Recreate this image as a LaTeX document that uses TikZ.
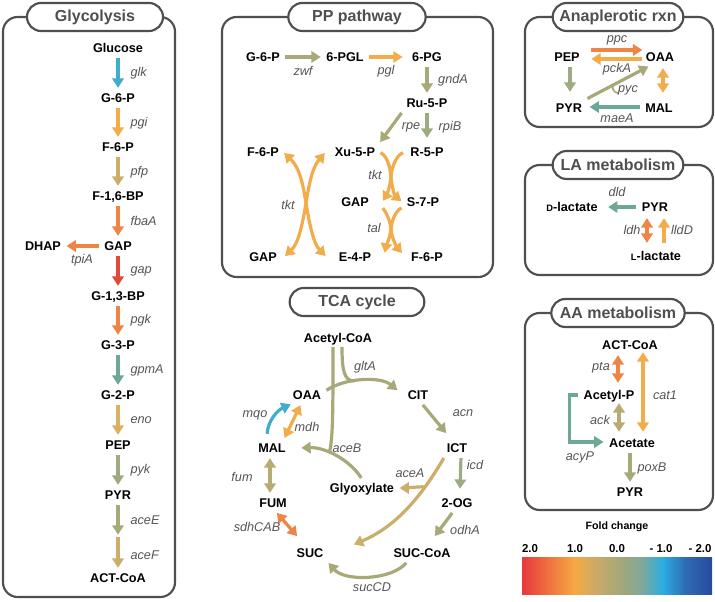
\documentclass[tikz,border=0pt]{standalone}
\usepackage{fontspec}
\setmainfont{Liberation Sans}
\usetikzlibrary{arrows.meta,calc}

\definecolor{cBlue}{HTML}{3FADCB}
\definecolor{cYel}{HTML}{F2AC4A}
\definecolor{cTan}{HTML}{CBAE69}
\definecolor{cOrg}{HTML}{EE8446}
\definecolor{cRed}{HTML}{DF483A}
\definecolor{cTeal}{HTML}{6CA797}
\definecolor{cOlive}{HTML}{A8A978}
\definecolor{cSage}{HTML}{9DAA82}
\definecolor{cKhaki}{HTML}{B8AB71}
\definecolor{cEno}{HTML}{DCB062}
\definecolor{boxgray}{HTML}{4F4F4F}
\definecolor{txtgray}{HTML}{555555}

\definecolor{fc1}{HTML}{E8393B}
\definecolor{fc2}{HTML}{EE6A3E}
\definecolor{fc3}{HTML}{F5AA44}
\definecolor{fc4}{HTML}{C7AA68}
\definecolor{fc5}{HTML}{A3A87A}
\definecolor{fc6}{HTML}{84A894}
\definecolor{fc7}{HTML}{2CAEE2}
\definecolor{fc8}{HTML}{2E6BB5}
\definecolor{fc9}{HTML}{284A9B}
\pgfdeclarehorizontalshading{foldbar}{100bp}{color(0bp)=(fc1); color(25bp)=(fc1); color(31bp)=(fc2); color(39bp)=(fc3); color(45bp)=(fc4); color(51bp)=(fc5); color(56bp)=(fc6); color(62bp)=(fc7); color(68bp)=(fc8); color(75bp)=(fc9); color(100bp)=(fc9)}

\begin{document}
\begin{tikzpicture}[x=0.75pt,y=0.75pt,yscale=-1,xscale=1,
  met/.style={font=\fontsize{9.5}{11}\selectfont\bfseries, text=black, inner sep=3pt, text height=6.9pt, text depth=0pt},
  gene/.style={font=\fontsize{9.5}{11}\selectfont\itshape, text=txtgray, inner sep=1pt},
  arr/.style={line width=2.4pt, -{Triangle[length=7pt,width=8.5pt]}, shorten >=1pt, shorten <=1pt},
  dbl/.style={line width=2.4pt, {Triangle[length=7pt,width=8.5pt]}-{Triangle[length=7pt,width=8.5pt]}, shorten >=1pt, shorten <=1pt},
  ln/.style={line width=2.4pt},
  panel/.style={draw=boxgray, line width=1.6pt, rounded corners=11pt},
  pill/.style={draw=boxgray, line width=1.6pt, fill=white, rounded corners=10.5pt, minimum height=21pt, inner sep=0pt, font=\fontsize{12}{14}\selectfont\bfseries, text=boxgray},
  tick/.style={font=\fontsize{8.6}{10}\selectfont\bfseries, text=black, inner sep=1pt}]
%set diagram size 715 x 602
\useasboundingbox (0,0) rectangle (715,602);
\fill[white] (0,0) rectangle (715,602);

%Panels
\draw[panel] (3,17) rectangle (175,597);
\draw[panel] (222,17) rectangle (493,277);
\draw[panel] (525,17) rectangle (713,127);
\draw[panel] (525,165) rectangle (713,275);
\draw[panel] (525,313) rectangle (713,510);
% Titles
\node[pill, minimum width=102pt] (tGly) at (95,17) {Glycolysis};
\node[pill, minimum width=103pt] (tPP) at (357,17) {PP pathway};
\node[pill, minimum width=98pt] (tAna) at (618,17) {Anaplerotic rxn};
\node[pill, minimum width=98pt] (tLA) at (618,165) {LA metabolism};
\node[pill, minimum width=100pt] (tAA) at (618,313) {AA metabolism};
\node[pill, minimum width=101pt] (tTCA) at (357,302) {TCA cycle};

%%%%%%%%%% Glycolysis
% Text Node
\node[met] (glc) at (118,48) {Glucose};
\node[met] (g6p) at (118,98) {G-6-P};
\node[met] (f6p) at (118,147) {F-6-P};
\node[met] (fbp) at (118,196) {F-1,6-BP};
\node[met] (gap) at (118,246) {GAP};
\node[met] (dhap) at (43,246) {DHAP};
\node[met] (bpg) at (118,296) {G-1,3-BP};
\node[met] (g3p) at (118,345) {G-3-P};
\node[met] (g2p) at (118,395) {G-2-P};
\node[met] (pep) at (118,445) {PEP};
\node[met] (pyr) at (118,495) {PYR};
\coordinate (acmid) at (118,536);
\node[met] (accoa) at (118,578) {ACT-CoA};

%Straight Lines
\draw[arr,cBlue] (glc) -- (g6p);
\draw[arr,cYel] (g6p) -- (f6p);
\draw[arr,cTan] (f6p) -- (fbp);
\draw[arr,cOrg] (fbp) -- (gap);
\draw[arr,cOrg] (gap) -- (dhap);
\draw[arr,cRed] (gap) -- (bpg);
\draw[arr,cOrg] (bpg) -- (g3p);
\draw[arr,cTeal] (g3p) -- (g2p);
\draw[arr,cEno] (g2p) -- (pep);
\draw[arr,cSage] (pep) -- (pyr);
\draw[arr,cOlive] (pyr) -- (acmid);
\draw[arr,cTan] (acmid) -- (accoa);

% Text Node
\node[gene,anchor=west] (lglk) at (129,73) {glk};
\node[gene,anchor=west] (lpgi) at (129,123) {pgi};
\node[gene,anchor=west] (lpfp) at (129,172) {pfp};
\node[gene,anchor=west] (lfba) at (129,221) {fbaA};
\node[gene] (ltpi) at (82,260) {tpiA};
\node[gene,anchor=west] (lgap) at (129,271) {gap};
\node[gene,anchor=west] (lpgk) at (129,320) {pgk};
\node[gene,anchor=west] (lgpm) at (129,370) {gpmA};
\node[gene,anchor=west] (leno) at (129,420) {eno};
\node[gene,anchor=west] (lpyk) at (129,470) {pyk};
\node[gene,anchor=west] (laceE) at (129,520) {aceE};
\node[gene,anchor=west] (laceF) at (129,555) {aceF};

%%%%%%%%%% PP pathway
% Text Node
\node[met] (pg6p) at (263,57) {G-6-P};
\node[met] (pgl6) at (345,57) {6-PGL};
\node[met] (ppg6) at (427,57) {6-PG};
\node[met] (ru5p) at (427,103) {Ru-5-P};
\node[met] (pf6p) at (263,152) {F-6-P};
\node[met] (xu5p) at (355,152) {Xu-5-P};
\node[met] (r5p) at (427,152) {R-5-P};
\node[met] (gapm) at (355,202) {GAP};
\node[met] (s7p) at (423,202) {S-7-P};
\node[met] (gapb) at (263,257) {GAP};
\node[met] (e4p) at (355,257) {E-4-P};
\node[met] (pf6pb) at (427,257) {F-6-P};
\coordinate (tktX) at (306,203);
\coordinate (tktS) at (391,177);
\coordinate (talS) at (391,229);

%Straight Lines
\draw[arr,cOlive] (pg6p) -- (pgl6);
\draw[arr,cYel] (pgl6) -- ($(ppg6.west)+(-4,0)$);
\draw[arr,cOlive] (ppg6) -- (ru5p);
\draw[arr,cOlive] (ru5p.south west) -- (xu5p.north east);
\draw[arr,cSage] (ru5p) -- ($(r5p.north)+(0,-4)$);

%Curve Lines
\draw[dbl,cYel] (pf6p.east) .. controls (300,168) and (303,185) .. (tktX) .. controls (309,221) and (313,243) .. ($(e4p.west)+(-8,0)$);
\draw[dbl,cYel] ($(xu5p.west)+(-5,0)$) .. controls (312,168) and (309,185) .. (tktX) .. controls (303,221) and (299,243) .. ($(gapb.east)+(3,0)$);
\draw[arr,cYel] (xu5p.east) .. controls (387,156) and (390,166) .. (tktS) .. controls (392,188) and (395,196) .. (s7p.west);
\draw[arr,cYel] ($(r5p.west)+(-2,0)$) .. controls (396,156) and (392,166) .. (tktS) .. controls (390,188) and (386,196) .. ($(gapm.east)+(9,0)$);
\draw[arr,cYel] ($(gapm.east)+(9,5)$) .. controls (386,212) and (390,220) .. (talS) .. controls (392,238) and (396,246) .. ($(pf6pb.west)+(-4,-3)$);
\draw[arr,cYel] ($(s7p.west)+(0,5)$) .. controls (395,212) and (392,220) .. (talS) .. controls (390,238) and (386,246) .. ($(e4p.east)+(9,-3)$);

% Text Node
\node[gene] (lzwf) at (303,71) {zwf};
\node[gene] (lpgl) at (386,71) {pgl};
\node[gene] (lgnd) at (453,80) {gndA};
\node[gene] (lrpe) at (411,127) {rpe};
\node[gene] (lrpi) at (450,127) {rpiB};
\node[gene] (ltktA) at (288,205) {tkt};
\node[gene] (ltktB) at (375,175) {tkt};
\node[gene] (ltal) at (374,228) {tal};

%%%%%%%%%% TCA cycle
% Text Node
\node[met] (acoa) at (338,338) {Acetyl-CoA};
\node[met] (oaa) at (307,395) {OAA};
\node[met] (cit) at (418,395) {CIT};
\node[met] (mal) at (272,448) {MAL};
\node[met] (ict) at (457,448) {ICT};
\node[met] (glx) at (362,488) {Glyoxylate};
\node[met] (fum) at (273,503) {FUM};
\node[met] (og) at (457,503) {2-OG};
\node[met] (suc) at (310,553) {SUC};
\node[met] (succoa) at (422,553) {SUC-CoA};

%Curve Lines
\draw[arr,cOlive] ($(oaa.east)+(0,-4)$) .. controls (345,378) and (380,376) .. ($(cit.west)+(-5,-4)$) coordinate[pos=0.4] (gltJ);
\draw[ln,cOlive] ($(acoa.south)+(4,0)$) .. controls (342,370) and (344,381) .. (gltJ);
\draw[arr,cOlive] (glx.north) .. controls (350,460) and (325,447) .. ($(mal.east)+(10,0)$) coordinate[pos=0.6] (aceJ);
\draw[ln,cOlive] ($(acoa.south)+(-5,0)$) .. controls (333,410) and (333,440) .. (aceJ);
\draw[arr,cTan] ($(ict.south west)+(2,0)$) .. controls (425,490) and (400,525) .. ($(suc.east)+(25,-8)$) coordinate[pos=0.3] (aceAJ);
\draw[arr,cTan] (aceAJ) .. controls (415,487) and (405,488) .. (glx.east);
\draw[arr,cOlive] ($(succoa.south)+(-15,0)$) .. controls (392,580) and (345,582) .. (suc.south east);
\draw[arr,cBlue] ($(mal.north)+(-5,-4)$) .. controls (268,420) and (278,410) .. ($(oaa.south)+(-15,0)$);

%Straight Lines
\draw[arr,cOlive] ($(cit.south)+(4,0)$) -- ($(ict.north)+(-10,-5)$);
\draw[arr,cSage] ($(ict.south)+(4,0)$) -- ($(og.north)+(3,-4)$);
\draw[arr,cOlive] ($(og.south)+(-4,0)$) -- ($(succoa.north)+(12,-7)$);
\draw[dbl,cOrg] ($(fum.south)+(3,0)$) -- ($(suc.north)+(-12,-7)$);
\draw[dbl,cKhaki] ($(mal.south)+(-2,0)$) -- ($(fum.north)+(-3,0)$);
\draw[dbl,cYel] ($(oaa.south)+(-6,0)$) -- ($(mal.north)+(12,0)$);

% Text Node
\node[gene] (lglt) at (365,367) {gltA};
\node[gene] (lacn) at (463,413) {acn};
\node[gene] (licd) at (475,465) {icd};
\node[gene] (laceA) at (410,473) {aceA};
\node[gene] (laceB) at (347,448) {aceB};
\node[gene] (lodh) at (465,530) {odhA};
\node[gene] (lsuc) at (372,587) {sucCD};
\node[gene] (lsdh) at (257,527) {sdhCAB};
\node[gene] (lfum) at (242,477) {fum};
\node[gene] (lmqo) at (255,415) {mqo};
\node[gene] (lmdh) at (307,427) {mdh};

%%%%%%%%%% Anaplerotic rxn
% Text Node
\node[met] (apep) at (567,57) {PEP};
\node[met] (aoaa) at (660,57) {OAA};
\node[met] (apyr) at (569,108) {PYR};
\node[met] (amal) at (659,108) {MAL};

%Straight Lines
\draw[arr,cOrg] ($(apep.east)+(6,-7)$) -- ($(aoaa.west)+(2,-7)$);
\draw[arr,cYel] ($(aoaa.west)+(2,2)$) -- ($(apep.east)+(6,2)$);
\draw[arr,cSage] ($(apep.south)+(3,0)$) -- ($(apyr.north)+(1,-6)$);
\draw[arr,cOlive] (apyr.north east) -- ($(aoaa.south west)+(8,0)$) coordinate[pos=0.42] (pycJ);
\draw[cOlive,line width=1.3pt] (pycJ) .. controls ($(pycJ)+(-1,4)$) and ($(pycJ)+(1,7)$) .. ($(pycJ)+(5,8)$);
\draw[dbl,cYel] ($(aoaa.south)+(3,1)$) -- ($(amal.north)+(4,-5)$);
\draw[arr,cTeal] ($(amal.west)+(0,-1)$) -- ($(apyr.east)+(2,-1)$);

% Text Node
\node[gene] (lppc) at (617,40) {ppc};
\node[gene] (lpck) at (617,69) {pckA};
\node[gene] (lpyc) at (628,90) {pyc};
\node[gene] (lmae) at (617,118) {maeA};

%%%%%%%%%% LA metabolism
% Text Node
\node[met] (dlac) at (572,207) {{\fontsize{7}{8}\selectfont D}-lactate};
\node[met] (lpyr) at (655,207) {PYR};
\node[met] (llac) at (656,256) {{\fontsize{7}{8}\selectfont L}-lactate};

%Straight Lines
\draw[arr,cTeal] (lpyr.west) -- ($(dlac.east)+(5,0)$);
\draw[dbl,cOrg] ($(lpyr.south)+(-8,1)$) -- ($(llac.north)+(-9,-3)$);
\draw[arr,cYel] ($(llac.north)+(8,-3)$) -- ($(lpyr.south)+(9,1)$);

% Text Node
\node[gene] (ldld) at (617,192) {dld};
\node[gene] (lldh) at (632,230) {ldh};
\node[gene] (llld) at (682,230) {lldD};

%%%%%%%%%% AA metabolism
% Text Node
\node[met] (xacoa) at (630,345) {ACT-CoA};
\node[met] (acp) at (609,395) {Acetyl-P};
\node[met] (ace) at (632,443) {Acetate};
\node[met] (xpyr) at (630,492) {PYR};

%Straight Lines
\draw[dbl,cOrg] ($(xacoa.south)+(-12,0)$) -- ($(acp.north)+(9,-2)$);
\draw[dbl,cYel] ($(xacoa.south)+(13,-3)$) -- ($(ace.north)+(11,-1)$);
\draw[dbl,cKhaki] ($(acp.south)+(10,-2)$) -- ($(ace.north)+(-13,-1)$);
\draw[arr,cTeal] (acp.west) -- ++(-10,0) |- ($(ace.west)+(0,-1)$);
\draw[arr,cOlive] ($(ace.south)+(-2,0)$) -- (xpyr.north);

% Text Node
\node[gene] (lpta) at (601,368) {pta};
\node[gene] (lcat) at (665,395) {cat1};
\node[gene] (lack) at (600,420) {ack};
\node[gene] (lacy) at (580,457) {acyP};
\node[gene] (lpox) at (652,468) {poxB};

%%%%%%%%%% Fold change bar
\node[font=\fontsize{8}{10}\selectfont\bfseries, inner sep=1pt] (fcT) at (617,527) {Fold change};
\node[tick] (tk1) at (530,549) {2.0};
\node[tick] (tk2) at (575,549) {1.0};
\node[tick] (tk3) at (617,549) {0.0};
\node[tick] (tk4) at (661,549) {- 1.0};
\node[tick] (tk5) at (700,549) {- 2.0};
\shade[shading=foldbar] (522,558) rectangle (712,595);

\end{tikzpicture}
\end{document}
